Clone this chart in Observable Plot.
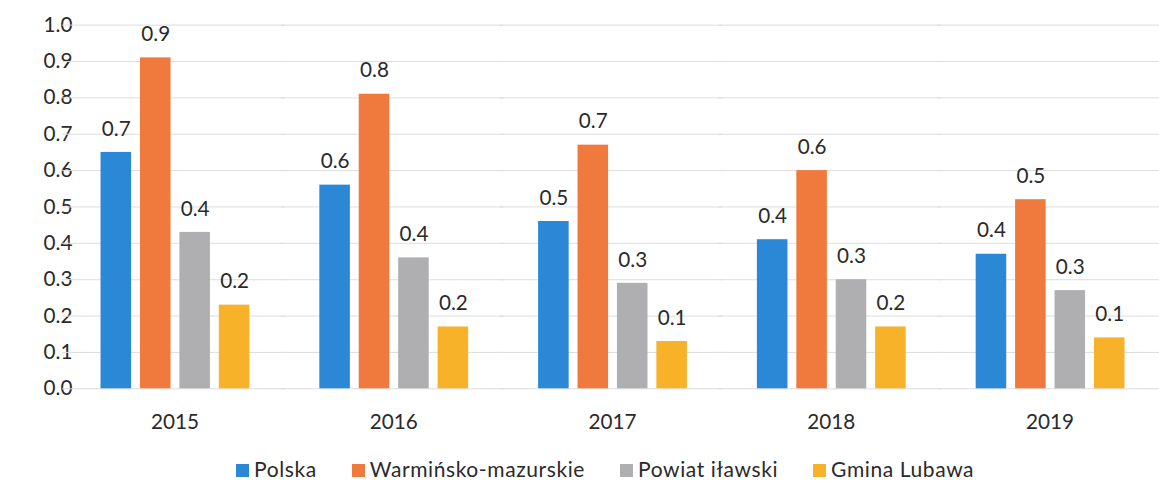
<!DOCTYPE html>
<html>
<head>
<meta charset="utf-8">
<script src="https://cdn.jsdelivr.net/npm/d3@7"></script>
<script src="https://cdn.jsdelivr.net/npm/@observablehq/plot@0.6"></script>
<style>
  html, body { margin: 0; padding: 0; background: #fff; overflow: hidden; width: 1159px; height: 483px; }
  #chart svg { display: block; }
  .legend { display: flex; align-items: center; margin-top: 14px; padding-left: 236px; font-family: Lato, sans-serif; font-size: 21px; letter-spacing: 0.6px; line-height: 24px; color: #2a2a2a; white-space: nowrap; }
  .legend .item { display: flex; align-items: center; margin-right: 35px; }
  .legend .sw { width: 13px; height: 13px; margin-right: 5px; display: inline-block; margin-top: 3px; }
</style>
</head>
<body>
<div id="chart"></div>
<script>
const years = ["2015", "2016", "2017", "2018", "2019"];
const seriesNames = ["Polska", "Warmińsko-mazurskie", "Powiat iławski", "Gmina Lubawa"];
const polska = [0.65, 0.56, 0.46, 0.41, 0.37];
const warminsko = [0.91, 0.81, 0.67, 0.60, 0.52];
const powiat = [0.43, 0.36, 0.29, 0.30, 0.27];
const gmina = [0.23, 0.17, 0.13, 0.17, 0.14];
const yTicks = [0, 0.1, 0.2, 0.3, 0.4, 0.5, 0.6, 0.7, 0.8, 0.9, 1.0];
const colors = ["#2B88D6", "#F07A3E", "#AFAFB2", "#F8B22A"];

const seriesValues = [polska, warminsko, powiat, gmina];
const data = [];
years.forEach((yr, i) => {
  seriesNames.forEach((s, j) => {
    data.push({year: yr, series: s, value: seriesValues[j][i]});
  });
});
const fmt = d3.format(".1f");

const chart = Plot.plot({
  width: 1176,
  height: 450,
  marginLeft: 65,
  marginRight: 0,
  marginTop: 25,
  marginBottom: 56,
  style: {fontFamily: "Lato, sans-serif", fontSize: "21px", color: "#2a2a2a", background: "#fff"},
  fx: {domain: years, axis: "bottom", label: null, tickSize: 0, tickPadding: 26, paddingInner: 0.307, paddingOuter: 0.1535},
  x: {domain: seriesNames, axis: null, paddingInner: 0.228, paddingOuter: 0},
  y: {domain: [0, 1], ticks: yTicks, tickFormat: fmt, tickSize: 0, tickPadding: 27, label: null},
  color: {domain: seriesNames, range: colors},
  marks: [
    Plot.ruleY(yTicks, {y: d => d, stroke: "#dcdcdc", strokeWidth: 1, insetLeft: -37, insetRight: -35}),
    Plot.barY(data, {fx: "year", x: "series", y: "value", fill: "series"}),
    Plot.text(data, {fx: "year", x: "series", y: "value", text: d => fmt(d.value), lineAnchor: "bottom", dy: -17, fill: "#2a2a2a", fontSize: 21})
  ]
});
document.getElementById("chart").appendChild(chart);

const legend = document.createElement("div");
legend.className = "legend";
seriesNames.forEach((s, j) => {
  const item = document.createElement("span");
  item.className = "item";
  const sw = document.createElement("span");
  sw.className = "sw";
  sw.style.background = colors[j];
  const t = document.createElement("span");
  t.textContent = s;
  item.appendChild(sw);
  item.appendChild(t);
  legend.appendChild(item);
});
document.getElementById("chart").appendChild(legend);
</script>
</body>
</html>
